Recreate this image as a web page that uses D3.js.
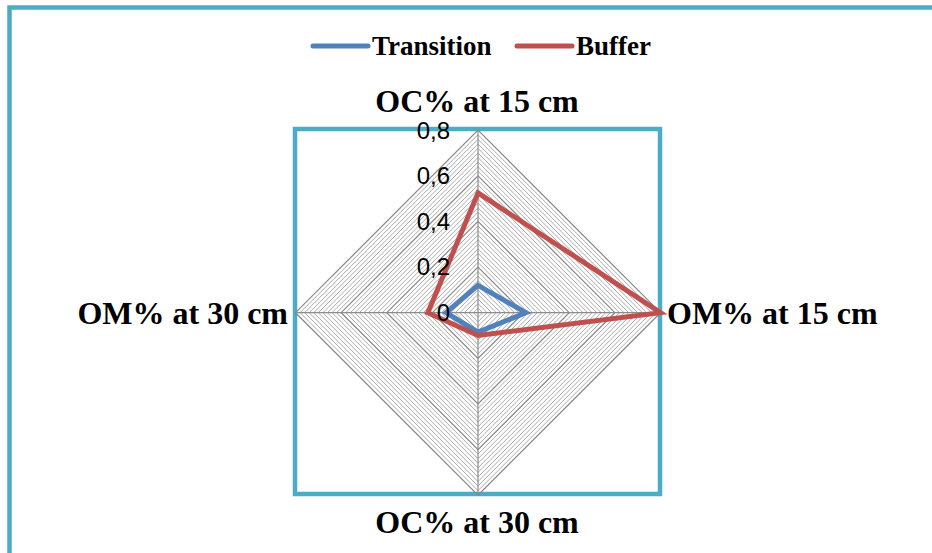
<!DOCTYPE html>
<html><head><meta charset="utf-8">
<script src="https://cdn.jsdelivr.net/npm/d3@7"></script>
<style>body{margin:0;background:#fff}svg{display:block}</style>
</head><body>
<svg id="c" width="932" height="553"></svg>
<script>
const categories = ["OC% at 15 cm", "OM% at 15 cm", "OC% at 30 cm", "OM% at 30 cm"];
const seriesNames = ["Transition", "Buffer"];
const transition = [0.12, 0.21, 0.085, 0.14];
const buffer = [0.525, 0.80, 0.10, 0.22];
const tickValues = [0, 0.2, 0.4, 0.6, 0.8];
const tickLabels = ["0", "0,2", "0,4", "0,6", "0,8"];
const colors = ["#4f81bd", "#c0504d"];

const svg = d3.select("#c");
const cx = 478, cy = 312.7;
const r = d3.scaleLinear().domain([0, 0.8]).range([0, 182.5]);
const angle = i => -Math.PI/2 + i * 2*Math.PI/categories.length;
const pt = (v, i) => [cx + r(v)*Math.cos(angle(i)), cy + r(v)*Math.sin(angle(i))];

// outer chart border
svg.append("rect").attr("x", 9.5).attr("y", 7.5).attr("width", 1000).attr("height", 700)
  .attr("fill", "none").attr("stroke", "#4bacc6").attr("stroke-width", 4.5);

// plot area border
svg.append("rect").attr("x", 295).attr("y", 129).attr("width", 365).attr("height", 365)
  .attr("fill", "none").attr("stroke", "#4bacc6").attr("stroke-width", 4.5);

// grid
const minor = d3.range(0.02, 0.8001, 0.02);
const g = svg.append("g");
minor.forEach(v => {
  const isMajor = Math.abs(Math.round(v/0.2)*0.2 - v) < 1e-6;
  g.append("polygon")
    .attr("points", categories.map((c,i) => pt(v,i).join(",")).join(" "))
    .attr("fill", "none")
    .attr("stroke", isMajor ? "#868686" : "#ababab")
    .attr("stroke-width", isMajor ? 1.2 : 1);
});
categories.forEach((c,i) => {
  const [x,y] = pt(0.8,i);
  g.append("line").attr("x1",cx).attr("y1",cy).attr("x2",x).attr("y2",y)
    .attr("stroke","#8c8c8c").attr("stroke-width",1.2);
});

// series
const line = d3.line().curve(d3.curveLinearClosed);
[transition, buffer].forEach((s, k) => {
  svg.append("path").attr("d", line(s.map((v,i) => pt(v,i))))
    .attr("fill","none").attr("stroke", colors[k]).attr("stroke-width", 5)
    .attr("stroke-linejoin","miter");
});

// tick labels
tickValues.forEach((v, j) => {
  svg.append("text").attr("x", 450).attr("y", cy - r(v))
    .attr("dy", "0.35em").attr("text-anchor", "end")
    .attr("font-family", "Liberation Sans, Arial, sans-serif").attr("font-size", 24)
    .attr("fill", "#000").text(tickLabels[j]);
});

// category labels
const labelPos = [
  {x: 477, y: 112, a: "middle"},
  {x: 667, y: 324, a: "start"},
  {x: 477, y: 533, a: "middle"},
  {x: 288, y: 324, a: "end"}
];
categories.forEach((c,i) => {
  svg.append("text").attr("x", labelPos[i].x).attr("y", labelPos[i].y)
    .attr("text-anchor", labelPos[i].a)
    .attr("font-family", "Liberation Serif, Times New Roman, serif")
    .attr("font-weight", "bold").attr("font-size", 32).text(c);
});

// legend
const legX = [313, 517];
seriesNames.forEach((n,k) => {
  svg.append("line").attr("x1", legX[k]).attr("x2", legX[k]+55).attr("y1", 46).attr("y2", 46)
    .attr("stroke", colors[k]).attr("stroke-width", 5).attr("stroke-linecap","round");
  svg.append("text").attr("x", legX[k]+59).attr("y", 55)
    .attr("font-family", "Liberation Serif, Times New Roman, serif")
    .attr("font-weight", "bold").attr("font-size", 27).text(n);
});
</script>
</body></html>
